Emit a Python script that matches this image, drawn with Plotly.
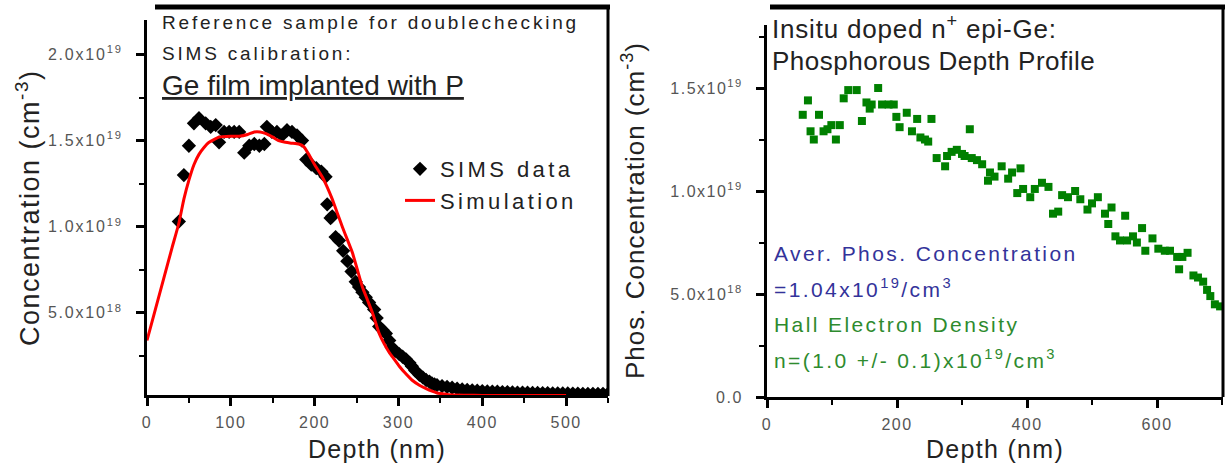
import plotly.graph_objects as go

W, H = 1225, 465
FONT = "Liberation Sans, Arial, sans-serif"

# ---------------- data (concentrations in units of 1e19 cm^-3) ----------------
sims_depth = [38, 44, 50, 56, 62, 70, 76, 82, 86, 92, 98, 104, 110, 116, 122, 128, 134, 140,
              143, 149, 155, 161, 167, 173, 179, 185, 190, 196, 202, 208, 213, 215, 219, 221,
              225, 229, 234, 239, 244, 249, 253, 257, 261, 265, 271, 274, 277, 281, 285, 289,
              292, 296, 301, 305, 309, 313, 316, 320, 325, 329, 333, 337, 340, 343, 346, 352,
              358, 364, 370, 376, 382, 388, 394, 400, 406, 412, 418, 424, 430, 436, 442, 448,
              454, 460, 466, 472, 478, 484, 490, 496, 502, 508, 514, 520, 526, 532, 538, 544, 550]
sims_conc = [1.03, 1.30, 1.47, 1.60, 1.63, 1.60, 1.58, 1.59, 1.49, 1.55, 1.55, 1.55, 1.55, 1.43,
             1.47, 1.48, 1.47, 1.48, 1.58, 1.55, 1.55, 1.53, 1.56, 1.55, 1.53, 1.50, 1.39, 1.36,
             1.34, 1.32, 1.29, 1.13, 1.05, 1.06, 0.94, 0.92, 0.86, 0.80, 0.74, 0.68, 0.65, 0.62,
             0.59, 0.56, 0.52, 0.47, 0.42, 0.40, 0.38, 0.34, 0.30, 0.28, 0.26, 0.245, 0.23, 0.21,
             0.19, 0.165, 0.14, 0.125, 0.11, 0.10, 0.09, 0.085, 0.08, 0.075, 0.07, 0.065, 0.06,
             0.055, 0.052, 0.05, 0.048, 0.046, 0.044, 0.043, 0.042, 0.04, 0.04, 0.038, 0.037,
             0.037, 0.036, 0.035, 0.035, 0.034, 0.034, 0.033, 0.033, 0.032, 0.032, 0.031, 0.031,
             0.03, 0.03, 0.03, 0.03, 0.03, 0.03]

sim_depth = [0, 10, 20, 30, 38, 44, 50, 56, 62, 68, 74, 86, 100, 110, 120, 128, 135, 142, 150,
             157, 165, 172, 181, 187, 193, 200, 209, 215, 221, 227, 233, 239, 245, 251, 257,
             263, 269, 277, 283, 289, 295, 301, 308, 316, 325, 333, 340, 346, 352, 360, 380,
             400, 450, 500]
sim_conc = [0.34, 0.52, 0.70, 0.88, 1.02, 1.16, 1.27, 1.36, 1.42, 1.46, 1.49, 1.52, 1.525,
            1.525, 1.535, 1.55, 1.55, 1.54, 1.52, 1.50, 1.49, 1.485, 1.48, 1.465, 1.42, 1.36,
            1.29, 1.23, 1.16, 1.08, 1.00, 0.925, 0.85, 0.75, 0.65, 0.575, 0.50, 0.38, 0.32,
            0.27, 0.23, 0.19, 0.15, 0.11, 0.08, 0.06, 0.045, 0.035, 0.03, 0.025, 0.022, 0.02,
            0.02, 0.02]

phos_depth = [55, 63, 67, 72, 80, 87, 93, 99, 106, 112, 118, 125, 138, 146, 153, 158, 161, 171,
              177, 187, 195, 199, 204, 215, 223, 231, 236, 243, 248, 253, 261, 274, 277, 284,
              292, 300, 304, 312, 315, 323, 331, 340, 343, 350, 361, 371, 377, 385, 390, 394,
              405, 412, 423, 433, 440, 448, 454, 463, 474, 482, 493, 500, 509, 520, 525, 530,
              536, 543, 551, 554, 563, 569, 577, 582, 593, 602, 612, 620, 631, 634, 639, 647,
              656, 663, 671, 677, 682, 689, 697]
phos_conc = [1.37, 1.44, 1.29, 1.25, 1.37, 1.29, 1.30, 1.32, 1.25, 1.32, 1.45, 1.49, 1.49, 1.34,
             1.43, 1.40, 1.42, 1.50, 1.42, 1.42, 1.42, 1.36, 1.31, 1.38, 1.29, 1.35, 1.26, 1.25,
             1.24, 1.35, 1.16, 1.12, 1.17, 1.19, 1.20, 1.18, 1.17, 1.30, 1.16, 1.15, 1.13, 1.05,
             1.09, 1.07, 1.12, 1.06, 1.09, 0.99, 1.11, 1.01, 0.97, 1.01, 1.04, 1.02, 0.89, 0.90,
             0.98, 0.97, 1.00, 0.96, 0.91, 0.94, 0.97, 0.89, 0.84, 0.92, 0.78, 0.76, 0.88, 0.76,
             0.78, 0.75, 0.82, 0.71, 0.77, 0.72, 0.71, 0.71, 0.68, 0.62, 0.68, 0.70, 0.59, 0.58,
             0.56, 0.52, 0.49, 0.45, 0.44]

left_ytick_vals = [0.5, 1.0, 1.5, 2.0]
left_ytick_text = ["5.0x10<sup>18</sup>", "1.0x10<sup>19</sup>", "1.5x10<sup>19</sup>", "2.0x10<sup>19</sup>"]
right_ytick_vals = [0.0, 0.5, 1.0, 1.5]
right_ytick_text = ["0.0", "5.0x10<sup>18</sup>", "1.0x10<sup>19</sup>", "1.5x10<sup>19</sup>"]
left_xtick_vals = [0, 100, 200, 300, 400, 500]
right_xtick_vals = [0, 200, 400, 600]


def sp(text, ls):
    return f'<span style="letter-spacing:{ls}px">{text}</span>'


def px(x):
    return x / W


def py(y):
    return 1 - y / H


fig = go.Figure()
fig.add_trace(go.Scatter(
    x=sims_depth, y=sims_conc, mode="markers", name=sp("SIMS data", 3.4),
    marker=dict(symbol="diamond", size=11, color="black"), xaxis="x", yaxis="y"))
fig.add_trace(go.Scatter(
    x=sim_depth, y=sim_conc, mode="lines", name=sp("Simulation", 3.4),
    line=dict(color="red", width=3, shape="spline", smoothing=0.4), xaxis="x", yaxis="y"))
fig.add_trace(go.Scatter(
    x=phos_depth, y=phos_conc, mode="markers", showlegend=False,
    marker=dict(symbol="square", size=8, color="#008000"), xaxis="x2", yaxis="y2"))

axis_common = dict(showgrid=False, zeroline=False, showline=True, linecolor="black",
                   linewidth=3, ticks="outside", ticklen=8, tickwidth=3, tickcolor="black",
                   automargin=False,
                   tickfont=dict(family=FONT, size=16, color="#555555"))

fig.update_layout(
    width=W, height=H, margin=dict(l=0, r=0, t=0, b=0, autoexpand=False),
    paper_bgcolor="white", plot_bgcolor="white",
    xaxis=dict(domain=[px(147), px(608)], range=[0, 550], anchor="y",
               tickvals=left_xtick_vals, ticktext=[sp(str(v), 1.5) for v in left_xtick_vals],
               ticklabelstandoff=3,
               minor=dict(dtick=50, ticks="outside", ticklen=5, tickwidth=2, tickcolor="black"),
               **axis_common),
    yaxis=dict(domain=[py(395), py(20)], range=[0.023, 2.2], anchor="x",
               tickvals=left_ytick_vals, ticktext=[sp(t, 1.8) for t in left_ytick_text],
               ticklabelstandoff=10,
               minor=dict(dtick=0.25, ticks="outside", ticklen=5, tickwidth=2, tickcolor="black"),
               **axis_common),
    xaxis2=dict(domain=[px(767), px(1223)], range=[0, 701.5], anchor="y2",
                tickvals=right_xtick_vals, ticktext=[sp(str(v), 1.5) for v in right_xtick_vals],
                ticklabelstandoff=3,
                minor=dict(dtick=100, ticks="outside", ticklen=5, tickwidth=2, tickcolor="black"),
                **axis_common),
    yaxis2=dict(domain=[py(397), py(25)], range=[0, 1.806], anchor="x2",
                tickvals=right_ytick_vals, ticktext=[sp(t, 1.5) for t in right_ytick_text],
                ticklabelstandoff=10,
                minor=dict(dtick=0.25, ticks="outside", ticklen=5, tickwidth=2, tickcolor="black"),
                **axis_common),
    legend=dict(x=px(400), y=py(148), xanchor="left", yanchor="top",
                font=dict(family=FONT, size=22, color="#222222"),
                bgcolor="rgba(0,0,0,0)", itemwidth=30, tracegroupgap=0),
    showlegend=True,
)

# frame pieces (top lines, right borders)
shapes = [
    dict(type="line", xref="paper", yref="paper", x0=px(155), x1=px(610), y0=py(7), y1=py(7),
         line=dict(color="black", width=5)),
    dict(type="line", xref="paper", yref="paper", x0=px(608), x1=px(608), y0=py(7), y1=py(396),
         line=dict(color="black", width=3)),
    dict(type="line", xref="paper", yref="paper", x0=px(770), x1=px(1225), y0=py(7), y1=py(7),
         line=dict(color="black", width=5)),
    dict(type="line", xref="paper", yref="paper", x0=px(1223), x1=px(1223), y0=py(7), y1=py(397),
         line=dict(color="black", width=3)),
]
fig.update_layout(shapes=shapes)


def ann(text, x, y, size, color="#222222", xanchor="left", angle=0, under=False):
    f = dict(family=FONT, size=size, color=color)
    if under:
        f["lineposition"] = "under"
    return dict(text=text, x=px(x), y=py(y), xref="paper", yref="paper", showarrow=False,
                xanchor=xanchor, yanchor="middle", textangle=angle, font=f)


anns = [
    ann(sp("Reference sample for doublechecking", 2.8), 160, 23, 19),
    ann(sp("SIMS calibration:", 2.8), 160, 54, 19),
    ann("Ge film implanted with P", 160, 85, 28, under=True),
    ann(sp("Concentration (cm<sup>-3</sup>)", 1.5), 28, 208, 27, xanchor="center", angle=-90),
    ann(sp("Depth (nm)", 1.3), 377, 449, 25, xanchor="center"),
    ann(sp("Depth (nm)", 1.3), 995, 449, 25, xanchor="center"),
    ann(sp("Phos. Concentration (cm<sup>-3</sup>)", 1.0), 633, 211, 26, xanchor="center", angle=-90),
    ann(sp("Insitu doped n<sup>+</sup> epi-Ge:", 0.8), 770, 28, 26),
    ann(sp("Phosphorous Depth Profile", 0.5), 770, 61, 26),
    ann(sp("Aver. Phos. Concentration", 2.4), 772, 253, 21, color="#33339a"),
    ann(sp("=1.04x10<sup>19</sup>/cm<sup>3</sup>", 2.4), 772, 288, 21, color="#33339a"),
    ann(sp("Hall Electron Density", 2.4), 772, 324, 21, color="#2e8b2e"),
    ann(sp("n=(1.0 +/- 0.1)x10<sup>19</sup>/cm<sup>3</sup>", 2.4), 772, 359, 21, color="#2e8b2e"),
]
fig.update_layout(annotations=anns)

fig.write_html(
    "out.html",
    config={"displayModeBar": False},
    post_script="document.body.style.margin='0';document.body.style.padding='0';"
                "document.body.style.overflow='hidden';",
)
